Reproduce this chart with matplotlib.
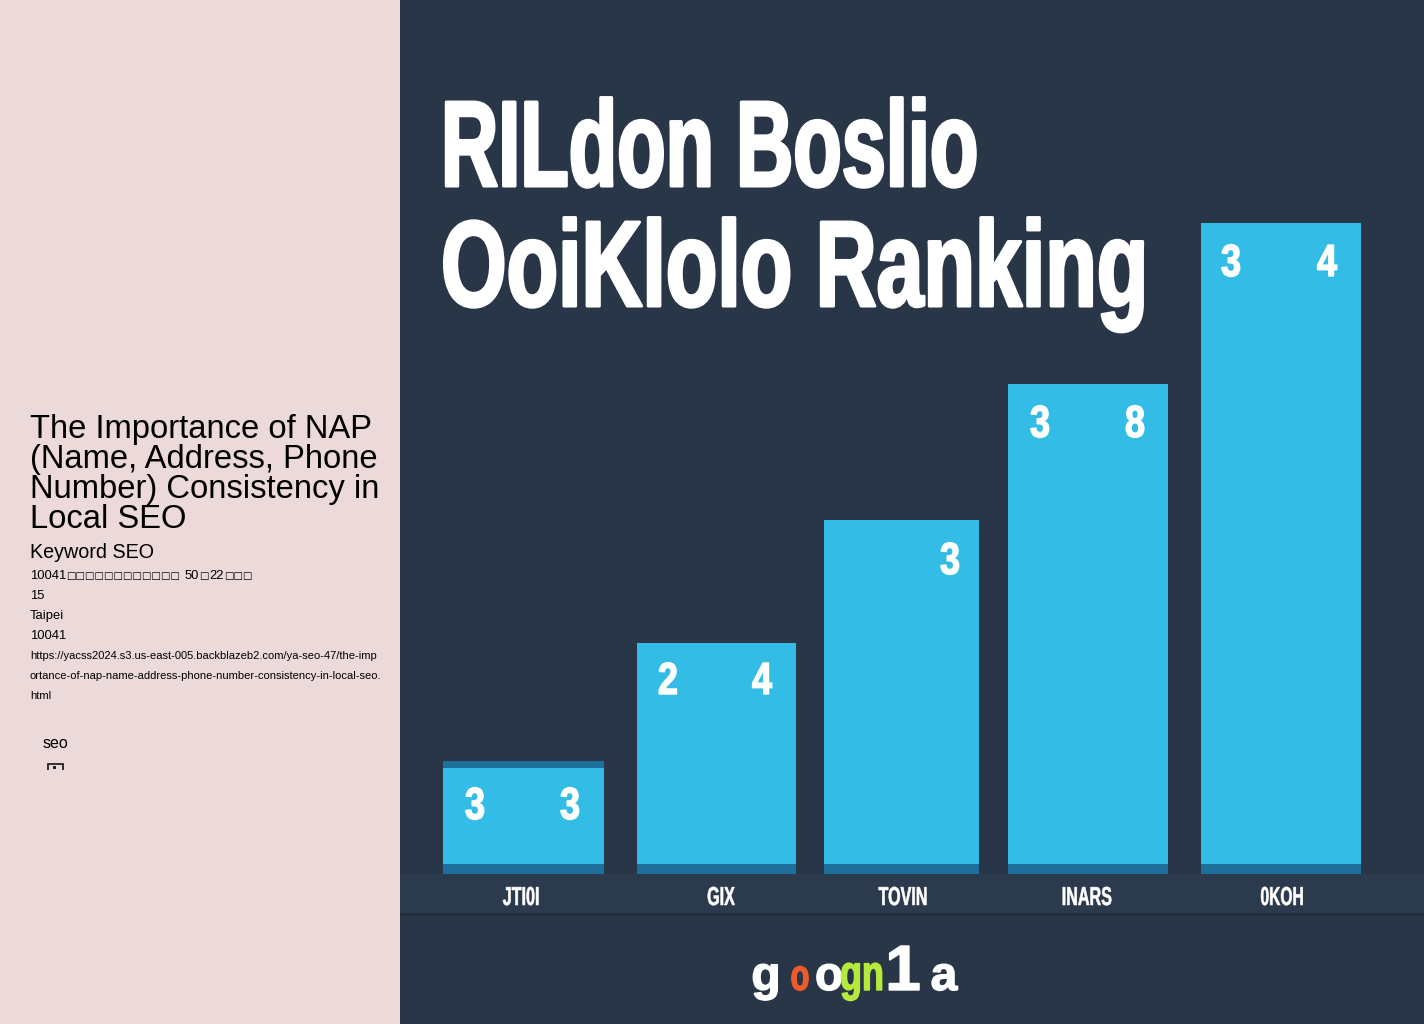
import matplotlib
matplotlib.use("Agg")
import matplotlib.pyplot as plt
from matplotlib.patches import Rectangle
from matplotlib.patheffects import AbstractPathEffect
from matplotlib.transforms import Affine2D

categories = ["JTI0I", "GIX", "TOVIN", "INARS", "0KOH"]
bar_heights = [113, 231, 354, 490, 651]
bar_left_labels = ["3", "2", "", "3", "3"]
bar_right_labels = ["3", "4", "3", "8", "4"]
headline = ["RILdon Boslio", "OoiKlolo Ranking"]
side_title = ["The Importance of NAP", "(Name, Address, Phone", "Number) Consistency in", "Local SEO"]
side_lines = ["15", "Taipei", "10041"]
address_parts = ["10041", "□" * 12, "50", "□", "22", "□□□"]
url_lines = ["https://yacss2024.s3.us-east-005.backblazeb2.com/ya-seo-47/the-imp",
             "ortance-of-nap-name-address-phone-number-consistency-in-local-seo.",
             "html"]
logo = ["g", "o", "o", "gn", "1", "a"]
logo_colors = ["white", "#ee5a2a", "white", "#b5ea3c", "white", "white"]

W, H = 1424, 1024
BASE = 874
bar_lefts = [443, 637, 824, 1008, 1201]
bar_widths = [161, 159, 155, 160, 160]
label_x = [521, 721, 903, 1087, 1282]
left_dx = [475, 668, None, 1040, 1231]
right_dx = [570, 762, 950, 1135, 1327]
digit_base = [819, 694, 574, 437, 276]
logo_x = [766, 800, 829, 862, 903, 944]
logo_sx = [1.0, 0.7, 0.95, 0.72, 1.0, 1.0]
logo_size = [48, 44, 48, 50, 64, 48]
address_x = [30, 66, 185, 199.5, 209.5, 223.8]
label_sx = [0.62, 0.62, 0.62, 0.62, 0.6]

NAVY, CYAN, DEEP, PINK = "#293648", "#33bde6", "#1e6f9c", "#ecd9d9"
SANS = ["Liberation Sans", "DejaVu Sans"]
px = 0.72


class Tall(AbstractPathEffect):
    """Stretches glyphs upward from the baseline, since no condensed face is installed."""

    def __init__(self, sy, stroke=0.0):
        super().__init__()
        self.sy, self.stroke = sy, stroke

    def draw_path(self, renderer, gc, tpath, affine, rgbFace=None):
        gc0 = renderer.new_gc()
        gc0.copy_properties(gc)
        if self.stroke:
            gc0.set_linewidth(self.stroke)
            gc0.set_foreground(rgbFace)
        renderer.draw_path(gc0, tpath, Affine2D().scale(1, self.sy) + affine, rgbFace)
        gc0.restore()


fig = plt.figure(figsize=(W / 100, H / 100), dpi=100, facecolor=NAVY)
bg = fig.add_axes([0, 0, 1, 1], zorder=0)
bg.set_xlim(0, W); bg.set_ylim(H, 0); bg.axis("off")
bg.add_patch(Rectangle((0, 0), 400, H, fc=PINK, ec="none"))
bg.add_patch(Rectangle((400, BASE), W - 400, 39, fc="#2c3a4d", ec="none"))
bg.plot([400, W], [913.5, 913.5], color="#1d2837", lw=1.0, solid_capstyle="butt")

ax = fig.add_axes([0, 1 - BASE / H, 1, BASE / H], zorder=1)
ax.set_xlim(0, W); ax.set_ylim(0, BASE); ax.axis("off")
ax.bar(bar_lefts, bar_heights, width=bar_widths, align="edge", color=CYAN, lw=0)
ax.bar(bar_lefts, [10] * 5, width=bar_widths, align="edge", color=DEEP, lw=0)
ax.bar(bar_lefts[0], 7, bottom=bar_heights[0] - 7, width=bar_widths[0], align="edge", color=DEEP, lw=0)

ov = fig.add_axes([0, 0, 1, 1], zorder=2)
ov.set_xlim(0, W); ov.set_ylim(H, 0); ov.axis("off"); ov.patch.set_alpha(0)


def narrow(x, y, s, sx, size, ha="center", stroke=0.0, color="white"):
    """Text of full height `size` px whose width is sx of the regular face."""
    t = ov.text(x, y, s, color=color, fontsize=size * sx * px, family=SANS, weight="bold",
                ha=ha, va="baseline")
    t.set_path_effects([Tall(1 / sx, stroke)])
    return t


for l, r, lx, rx, y in zip(bar_left_labels, bar_right_labels, left_dx, right_dx, digit_base):
    if l:
        narrow(lx, y, l, 0.8, 45, stroke=1.0)
    narrow(rx, y, r, 0.8, 45, stroke=1.0)

for x, c, sx in zip(label_x, categories, label_sx):
    narrow(x, 905, c, sx, 26, stroke=0.4)

rend = fig.canvas.get_renderer()
for y, line, target in zip([186, 306], headline, [537, 707]):
    probe = ov.text(441, y, line, fontsize=122 * px, family=SANS, weight="bold")
    natural = probe.get_window_extent(rend).width
    probe.remove()
    narrow(441, y, line, target / natural, 122, ha="left", stroke=2.2)

for x, ch, col, sx, size in zip(logo_x, logo, logo_colors, logo_sx, logo_size):
    narrow(x, 990, ch, sx, size, color=col, stroke=1.0)

for y, line in zip([438, 468, 498, 528], side_title):
    ov.text(30, y, line, color="black", fontsize=32.8 * px, family=SANS, ha="left", va="baseline")
ov.text(30, 558, "Keyword SEO", color="black", fontsize=19.8 * px, family=SANS, ha="left", va="baseline")
for x, part in zip(address_x, address_parts):
    is_box = "□" in part
    ov.text(x, 579, part, color="black", fontsize=(10 if is_box else 13) * px,
            family=["DejaVu Sans"] if is_box else SANS, ha="left", va="baseline")
for y, line in zip([599, 619, 639], side_lines):
    ov.text(30, y, line, color="black", fontsize=13 * px, family=SANS, ha="left", va="baseline")
for y, line in zip([659, 679, 699], url_lines):
    ov.text(30, y, line, color="black", fontsize=11.1 * px, family=SANS, ha="left", va="baseline")
ov.text(43, 748, "seo", color="black", fontsize=16 * px, family=SANS, ha="left", va="baseline")
ov.add_patch(Rectangle((47.5, 764), 15, 8, fc="none", ec="#222222", lw=1.3))
ov.add_patch(Rectangle((52.5, 766), 3.5, 2.5, fc="#222222", ec="none"))
ov.add_patch(Rectangle((45, 769.5), 20, 5, fc=PINK, ec="none", zorder=5))

fig.savefig("out.png", dpi=100, facecolor=NAVY)
